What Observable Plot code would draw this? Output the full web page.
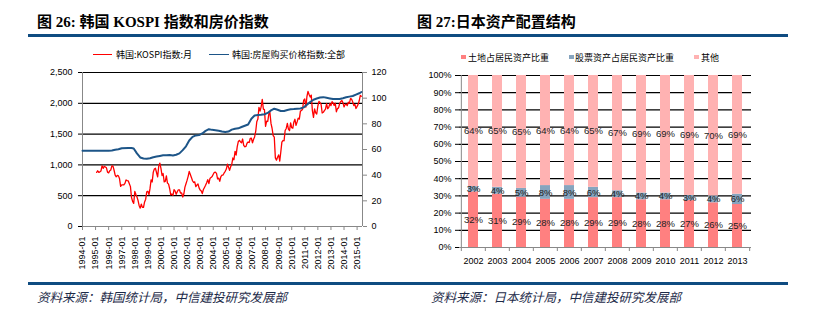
<!DOCTYPE html>
<html><head><meta charset="utf-8">
<script src="https://cdn.jsdelivr.net/npm/d3@7"></script>
<script src="https://cdn.jsdelivr.net/npm/@observablehq/plot@0.6"></script>
<style>
body{margin:0;background:#fff;width:826px;height:332px;position:relative;overflow:hidden;font-family:"Noto Sans CJK SC",sans-serif}
.abs{position:absolute;white-space:nowrap;line-height:1}
.title{font-weight:bold;font-size:15px;color:#000;top:14.5px;font-family:"Liberation Serif","Noto Sans CJK SC",serif}
.bar{position:absolute;height:3px;background:#0f4c81;left:28px;width:760px}
.cap{font-style:italic;font-size:12.5px;color:#1c2a48;top:291px}
.leg{font-size:9px;color:#000}
.sw{position:absolute}
#c1{position:absolute;left:0;top:60px}
#c2{position:absolute;left:413px;top:60px}
</style></head><body>
<div class="abs title" style="left:37px">图 26: 韩国 KOSPI 指数和房价指数</div>
<div class="abs title" style="left:417px">图 27:日本资产配置结构</div>
<div class="bar" style="top:33.5px"></div>
<div class="bar" style="top:281.5px"></div>
<div class="abs cap" style="left:37px">资料来源：韩国统计局，中信建投研究发展部</div>
<div class="abs cap" style="left:431px">资料来源：日本统计局，中信建投研究发展部</div>

<div class="sw" style="left:93px;top:53.5px;width:19px;height:1.5px;background:#ff0000"></div>
<div class="abs leg" style="left:116px;top:50px">韩国:KOSPI指数:月</div>
<div class="sw" style="left:209px;top:53.5px;width:20px;height:1.5px;background:#1d5588"></div>
<div class="abs leg" style="left:232px;top:50px">韩国:房屋购买价格指数:全部</div>

<div class="sw" style="left:461px;top:54.5px;width:4.5px;height:4.5px;background:#ff8080"></div>
<div class="abs leg" style="left:468px;top:52.5px">土地占居民资产比重</div>
<div class="sw" style="left:569px;top:54.5px;width:4.5px;height:4.5px;background:#86a4be"></div>
<div class="abs leg" style="left:575px;top:52.5px">股票资产占居民资产比重</div>
<div class="sw" style="left:694px;top:54.5px;width:4.5px;height:4.5px;background:#ffb2b2"></div>
<div class="abs leg" style="left:701px;top:52.5px">其他</div>

<div id="c1"></div>
<div id="c2"></div>
<script>
// ---------- Chart 26 data ----------
const kospiStart = "1995-02";
const kospi = [
 879,905,879,888,902,985,944,977,966,952,882,
 871,905,917,983,979,913,835,807,829,822,774,651,
 677,677,678,700,756,745,742,695,647,470,407,376,
 568,518,482,424,342,298,364,310,311,399,443,562,
 572,517,614,758,723,883,932,945,873,806,982,1028,
 943,828,861,725,731,822,705,688,613,514,527,505,
 599,575,523,564,596,596,541,545,479,526,639,693,
 752,819,895,845,797,743,715,725,646,673,690,627,
 591,575,535,600,634,670,710,760,697,779,797,811,
 849,880,881,863,774,785,735,809,835,836,869,896,
 933,1011,965,912,970,1008,1112,1083,1221,1158,1297,1379,
 1399,1372,1359,1420,1318,1295,1297,1352,1371,1364,1432,1434,
 1360,1417,1453,1543,1700,1744,1934,1874,1947,2065,1906,1897,
 1625,1712,1704,1825,1853,1674,1595,1474,1449,1114,1077,1125,
 1162,1063,1206,1369,1396,1390,1558,1592,1673,1581,1556,1682,
 1603,1595,1693,1741,1641,1698,1759,1743,1873,1883,1905,2051,
 2069,1939,2107,2192,2142,2101,2133,1880,1770,1910,1847,1826,
 1956,2031,2014,1981,1843,1854,1881,1906,1996,1912,1933,1997,
 1962,2027,2005,1964,2001,1863,1914,1926,1997,2030,2045,2011,
 1941,1980,1986,1962,2017,2002,2076,2068,2020,1964,1981,1916,
 1950,1986,2041,2127,2115
];
const hpiDates = ["1994-01","1994-07","1995-01","1995-07","1996-01","1996-04","1996-07","1996-10","1997-01","1997-07","1997-10","1997-12",
 "1998-03","1998-06","1998-09","1998-12","1999-03","1999-06","1999-09","1999-12","2000-03","2000-06","2000-09","2000-12",
 "2001-03","2001-06","2001-09","2001-12","2002-03","2002-06","2002-09","2002-12","2003-03","2003-06","2003-09","2003-12",
 "2004-03","2004-06","2004-09","2004-12","2005-03","2005-06","2005-09","2005-12","2006-03","2006-06","2006-09","2006-12",
 "2007-03","2007-06","2007-09","2007-12","2008-03","2008-06","2008-09","2008-12","2009-03","2009-06","2009-09","2009-12",
 "2010-03","2010-06","2010-09","2010-12","2011-03","2011-06","2011-09","2011-12","2012-03","2012-06","2012-09","2012-12",
 "2013-03","2013-06","2013-09","2013-12","2014-03","2014-06","2014-09","2014-12","2015-03","2015-05"];
const hpiValues = [59.1,59.1,59.1,59.0,59.1,59.3,59.8,60.2,61.0,61.1,61.2,60.8,
 57.0,53.8,53.0,52.8,53.2,54.0,54.5,55.0,55.5,55.6,55.8,55.4,
 55.9,57.0,59.5,62.5,67.0,69.8,71.0,71.2,72.5,74.5,75.8,75.3,
 75.0,74.6,74.0,73.6,74.0,75.5,76.2,76.5,77.5,78.5,79.5,84.0,
 86.5,86.8,87.0,87.5,88.5,90.5,91.8,91.0,90.0,90.0,90.8,91.3,
 91.5,91.8,92.0,92.8,94.8,97.0,98.8,99.7,100.5,100.8,100.3,99.8,
 99.3,99.3,99.4,100.0,100.7,101.2,101.7,102.8,103.8,104.8];
const xTickLabels = ["1994-01","1995-01","1996-01","1997-01","1998-01","1999-01","2000-01","2001-01","2002-01","2003-01","2004-01","2005-01","2006-01","2007-01","2008-01","2009-01","2010-01","2011-01","2012-01","2013-01","2014-01","2015-01"];
const leftTicks = [0,500,1000,1500,2000,2500];
const rightTicks = [0,20,40,60,80,100,120];
const xDomain = ["1994-01","2015-06"];

// ---------- Chart 27 data ----------
const years = ["2002","2003","2004","2005","2006","2007","2008","2009","2010","2011","2012","2013"];
const seriesNames = ["土地占居民资产比重","股票资产占居民资产比重","其他"];
const landShare  = [32,31,29,28,28,29,29,28,28,27,26,25];
const stockShare = [3,4,5,8,8,6,4,4,4,3,4,6];
const otherShare = [64,65,65,64,64,65,67,69,69,69,70,69];
const seriesColors = ["#ff8080","#86a4be","#ffb2b2"];
const pctTicks = [0,0.1,0.2,0.3,0.4,0.5,0.6,0.7,0.8,0.9,1];

// ---------- build ----------
const parseM = d3.utcParse("%Y-%m");
const start = parseM(kospiStart);
const kospiData = kospi.map((v,i)=>({date:d3.utcMonth.offset(start,i), v}));
const k = 2500/120;
const hpiData = hpiDates.map((d,i)=>({date:parseM(d), v:hpiValues[i]}));
const dom = xDomain.map(parseM);
const font = {fontFamily:"'Liberation Sans', Arial, sans-serif", fontSize:"9px", color:"#000", background:"transparent", overflow:"visible"};

const c1 = Plot.plot({
  width:413, height:220, marginLeft:82, marginRight:51, marginTop:12, marginBottom:54,
  style:font,
  x:{type:"utc", domain:dom},
  y:{domain:[0,2500]},
  marks:[
    Plot.ruleY(leftTicks.filter(d=>d>0),{stroke:"#000",strokeWidth:1.2}),
    Plot.axisY({ticks:leftTicks, tickFormat:d3.format(","), tickSize:4, tickPadding:6, stroke:"#000", label:null}),
    Plot.axisY({anchor:"right", ticks:rightTicks.map(d=>d*k), tickFormat:d=>String(Math.round(d/k)), tickSize:4, tickPadding:5, stroke:"#888", label:null}),
    Plot.axisX({ticks:xTickLabels.map(parseM), tickFormat:d3.utcFormat("%Y-%m"), tickRotate:-90, tickSize:4, tickPadding:6, stroke:"#888", label:null}),
    Plot.ruleX([dom[0]],{stroke:"#888"}),
    Plot.ruleX([dom[1]],{stroke:"#888"}),
    Plot.ruleY([0],{stroke:"#888"}),
    Plot.line(kospiData,{x:"date", y:"v", stroke:"#ff0000", strokeWidth:1.3}),
    Plot.line(hpiData,{x:"date", y:d=>d.v*k, stroke:"#1d5588", strokeWidth:2})
  ]
});
document.getElementById("c1").appendChild(c1);

const table = [];
years.forEach((y,i)=>{
  table.push({year:y, series:seriesNames[0], value:landShare[i]});
  table.push({year:y, series:seriesNames[1], value:stockShare[i]});
  table.push({year:y, series:seriesNames[2], value:otherShare[i]});
});
const W2=413, ml2=46, mr2=75;
const step = (W2-ml2-mr2)/years.length;
const c2 = Plot.plot({
  width:W2, height:220, marginLeft:ml2, marginRight:mr2, marginTop:15, marginBottom:33,
  style:font,
  x:{domain:years, paddingInner:0.575, paddingOuter:0.2875},
  y:{domain:[0,1]},
  color:{domain:seriesNames, range:seriesColors},
  marks:[
    Plot.ruleY(pctTicks.filter(d=>d>0),{stroke:"#000",strokeWidth:1.2}),
    Plot.barY(table, Plot.stackY({x:"year", y:"value", fill:"series", order:seriesNames, offset:"normalize"})),
    Plot.text(table, Plot.stackY({x:"year", y:"value", z:"series", order:seriesNames, offset:"normalize", text:d=>d.value+"%", fill:"#222", fontSize:9.5})),
    Plot.axisY({ticks:pctTicks, tickFormat:d3.format(".0%"), tickSize:4, tickPadding:4, stroke:"#000", label:null}),
    Plot.axisX({tickSize:0, tickPadding:10, label:null}),
    Plot.axisX({ticks:years, text:null, tickSize:4, dx:-step/2, stroke:"#888", label:null}),
    Plot.axisX({ticks:[years[years.length-1]], text:null, tickSize:4, dx:step/2, stroke:"#888", label:null}),
    Plot.ruleY([0],{stroke:"#888"}),
    Plot.ruleX([years[0]],{dx:-step/2, stroke:"#888"})
  ]
});
document.getElementById("c2").appendChild(c2);
</script>
</body></html>
